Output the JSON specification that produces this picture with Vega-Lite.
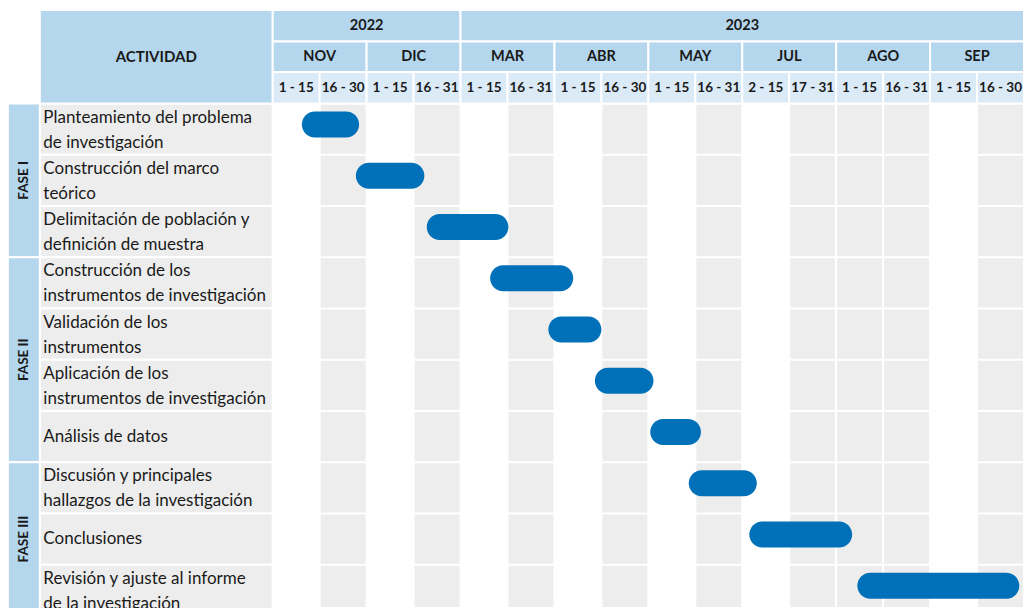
{
  "$schema": "https://vega.github.io/schema/vega-lite/v6.json",
  "autosize": {"type": "none"},
  "width": 1024,
  "height": 608,
  "padding": 0,
  "background": "white",
  "config": {"view": {"stroke": null}, "text": {"font": "Lato", "color": "#1a1a1a"}},
  "datasets": {
    "quincenas": [
      {"anio": "2022", "mes": "NOV", "quincena": "1 - 15", "ini": 0, "fin": 1},
      {"anio": "2022", "mes": "NOV", "quincena": "16 - 30", "ini": 1, "fin": 2},
      {"anio": "2022", "mes": "DIC", "quincena": "1 - 15", "ini": 2, "fin": 3},
      {"anio": "2022", "mes": "DIC", "quincena": "16 - 31", "ini": 3, "fin": 4},
      {"anio": "2023", "mes": "MAR", "quincena": "1 - 15", "ini": 4, "fin": 5},
      {"anio": "2023", "mes": "MAR", "quincena": "16 - 31", "ini": 5, "fin": 6},
      {"anio": "2023", "mes": "ABR", "quincena": "1 - 15", "ini": 6, "fin": 7},
      {"anio": "2023", "mes": "ABR", "quincena": "16 - 30", "ini": 7, "fin": 8},
      {"anio": "2023", "mes": "MAY", "quincena": "1 - 15", "ini": 8, "fin": 9},
      {"anio": "2023", "mes": "MAY", "quincena": "16 - 31", "ini": 9, "fin": 10},
      {"anio": "2023", "mes": "JUL", "quincena": "2 - 15", "ini": 10, "fin": 11},
      {"anio": "2023", "mes": "JUL", "quincena": "17 - 31", "ini": 11, "fin": 12},
      {"anio": "2023", "mes": "AGO", "quincena": "1 - 15", "ini": 12, "fin": 13},
      {"anio": "2023", "mes": "AGO", "quincena": "16 - 31", "ini": 13, "fin": 14},
      {"anio": "2023", "mes": "SEP", "quincena": "1 - 15", "ini": 14, "fin": 15},
      {"anio": "2023", "mes": "SEP", "quincena": "16 - 30", "ini": 15, "fin": 16}
    ],
    "actividades": [
      {"fila": 1, "fase": "FASE I", "actividad": "Planteamiento del problema\nde investigación", "inicio": 0.62, "fin": 1.84},
      {"fila": 2, "fase": "FASE I", "actividad": "Construcción del marco\nteórico", "inicio": 1.77, "fin": 3.23},
      {"fila": 3, "fase": "FASE I", "actividad": "Delimitación de población y\ndefinición de muestra", "inicio": 3.28, "fin": 5.02},
      {"fila": 4, "fase": "FASE II", "actividad": "Construcción de los\ninstrumentos de investigación", "inicio": 4.63, "fin": 6.4},
      {"fila": 5, "fase": "FASE II", "actividad": "Validación de los\ninstrumentos", "inicio": 5.87, "fin": 7.0},
      {"fila": 6, "fase": "FASE II", "actividad": "Aplicación de los\ninstrumentos de investigación", "inicio": 6.86, "fin": 8.11},
      {"fila": 7, "fase": "FASE II", "actividad": "Análisis de datos", "inicio": 8.04, "fin": 9.12},
      {"fila": 8, "fase": "FASE III", "actividad": "Discusión y principales\nhallazgos de la investigación", "inicio": 8.86, "fin": 10.31},
      {"fila": 9, "fase": "FASE III", "actividad": "Conclusiones", "inicio": 10.15, "fin": 12.34},
      {"fila": 10, "fase": "FASE III", "actividad": "Revisión y ajuste al informe\nde la investigación", "inicio": 12.45, "fin": 15.9}
    ],
    "encabezado": [{"titulo": "ACTIVIDAD"}]
  },
  "layer": [
    {
      "data": {"name": "quincenas"},
      "transform": [{"filter": {"field": "ini", "oneOf": [1, 3, 5, 7, 9, 11, 12, 13, 15]}}],
      "mark": {"type": "rect", "fill": "#ededed", "stroke": "white", "strokeWidth": 2},
      "encoding": {
        "x": {"field": "ini", "type": "quantitative", "scale": {"domain": [-5.808, 16], "nice": false, "zero": false}, "axis": null},
        "x2": {"field": "fin"},
        "y": {"datum": 0.5, "type": "quantitative", "scale": {"domain": [-1.5195, 10.344], "nice": false, "zero": false, "reverse": true}, "axis": null},
        "y2": {"datum": 10.344}
      }
    },
    {
      "data": {"name": "actividades"},
      "mark": {"type": "rect", "fill": "#ededed", "stroke": "white", "strokeWidth": 2, "yOffset": -25.625, "y2Offset": 25.625},
      "encoding": {
        "x": {"datum": -4.96, "type": "quantitative"},
        "x2": {"datum": 0},
        "y": {"field": "fila", "type": "quantitative"},
        "y2": {"field": "fila"}
      }
    },
    {
      "data": {"name": "actividades"},
      "mark": {"type": "rect", "fill": "#b4d7ee", "stroke": "white", "strokeWidth": 2, "yOffset": -25.625, "y2Offset": 25.625},
      "encoding": {
        "x": {"datum": -5.64, "type": "quantitative"},
        "x2": {"datum": -4.96},
        "y": {"aggregate": "min", "field": "fila", "type": "quantitative"},
        "y2": {"aggregate": "max", "field": "fila"},
        "detail": {"field": "fase"}
      }
    },
    {
      "data": {"name": "actividades"},
      "mark": {"type": "rule", "stroke": "white", "strokeWidth": 2, "yOffset": 25.625},
      "encoding": {
        "x": {"datum": 0, "type": "quantitative"},
        "x2": {"datum": 16},
        "y": {"field": "fila", "type": "quantitative"}
      }
    },
    {
      "data": {"name": "encabezado"},
      "mark": {"type": "rect", "fill": "#b4d7ee", "stroke": "white", "strokeWidth": 2},
      "encoding": {
        "x": {"datum": -4.96, "type": "quantitative"},
        "x2": {"datum": 0},
        "y": {"datum": -1.324, "type": "quantitative"},
        "y2": {"datum": 0.5}
      }
    },
    {
      "data": {"name": "quincenas"},
      "mark": {"type": "rect", "fill": "#b4d7ee", "stroke": "white", "strokeWidth": 2},
      "encoding": {
        "x": {"aggregate": "min", "field": "ini", "type": "quantitative"},
        "x2": {"aggregate": "max", "field": "fin"},
        "y": {"datum": -1.324, "type": "quantitative"},
        "y2": {"datum": -0.71},
        "detail": {"field": "anio"}
      }
    },
    {
      "data": {"name": "quincenas"},
      "mark": {"type": "rect", "fill": "#b4d7ee", "stroke": "white", "strokeWidth": 2},
      "encoding": {
        "x": {"aggregate": "min", "field": "ini", "type": "quantitative"},
        "x2": {"aggregate": "max", "field": "fin"},
        "y": {"datum": -0.71, "type": "quantitative"},
        "y2": {"datum": -0.115},
        "detail": {"field": "mes"}
      }
    },
    {
      "data": {"name": "quincenas"},
      "mark": {"type": "rect", "fill": "#dbeaf7", "stroke": "white", "strokeWidth": 2},
      "encoding": {
        "x": {"field": "ini", "type": "quantitative"},
        "x2": {"field": "fin"},
        "y": {"datum": -0.115, "type": "quantitative"},
        "y2": {"datum": 0.5}
      }
    },
    {
      "data": {"name": "encabezado"},
      "mark": {"type": "text", "fontSize": 15, "fontWeight": "bold", "align": "center", "baseline": "middle"},
      "encoding": {
        "x": {"datum": -2.48, "type": "quantitative"},
        "y": {"datum": -0.412, "type": "quantitative"},
        "text": {"field": "titulo"}
      }
    },
    {
      "data": {"name": "quincenas"},
      "mark": {"type": "text", "fontSize": 14.5, "fontWeight": "bold", "align": "center", "baseline": "middle", "xOffset": 23.48},
      "encoding": {
        "x": {"aggregate": "mean", "field": "ini", "type": "quantitative"},
        "y": {"datum": -1.017, "type": "quantitative"},
        "text": {"field": "anio"}
      }
    },
    {
      "data": {"name": "quincenas"},
      "mark": {"type": "text", "fontSize": 14.5, "fontWeight": "bold", "align": "center", "baseline": "middle", "xOffset": 23.48},
      "encoding": {
        "x": {"aggregate": "mean", "field": "ini", "type": "quantitative"},
        "y": {"datum": -0.41, "type": "quantitative"},
        "text": {"field": "mes"}
      }
    },
    {
      "data": {"name": "quincenas"},
      "mark": {"type": "text", "fontSize": 13.5, "fontWeight": "bold", "align": "center", "baseline": "middle", "xOffset": 23.48},
      "encoding": {
        "x": {"field": "ini", "type": "quantitative"},
        "y": {"datum": 0.19, "type": "quantitative"},
        "text": {"field": "quincena"}
      }
    },
    {
      "data": {"name": "actividades"},
      "transform": [{"filter": {"not": {"field": "fila", "oneOf": [7, 9]}}}],
      "mark": {"type": "text", "fontSize": 17, "align": "left", "baseline": "middle", "lineBreak": "\n", "lineHeight": 25, "dy": -11.5},
      "encoding": {
        "x": {"datum": -4.885, "type": "quantitative"},
        "y": {"field": "fila", "type": "quantitative"},
        "text": {"field": "actividad"}
      }
    },
    {
      "data": {"name": "actividades"},
      "transform": [{"filter": {"field": "fila", "oneOf": [7, 9]}}],
      "mark": {"type": "text", "fontSize": 17, "align": "left", "baseline": "middle"},
      "encoding": {
        "x": {"datum": -4.885, "type": "quantitative"},
        "y": {"field": "fila", "type": "quantitative"},
        "text": {"field": "actividad"}
      }
    },
    {
      "data": {"name": "actividades"},
      "mark": {"type": "text", "fontSize": 13.5, "fontWeight": "bold", "align": "center", "baseline": "middle", "angle": 270},
      "encoding": {
        "x": {"datum": -5.3, "type": "quantitative"},
        "y": {"aggregate": "mean", "field": "fila", "type": "quantitative"},
        "text": {"field": "fase"}
      }
    },
    {
      "data": {"name": "actividades"},
      "mark": {"type": "rect", "fill": "#0070b8", "cornerRadius": 13, "yOffset": -17.5, "y2Offset": 8.5},
      "encoding": {
        "x": {"field": "inicio", "type": "quantitative"},
        "x2": {"field": "fin"},
        "y": {"field": "fila", "type": "quantitative"},
        "y2": {"field": "fila"}
      }
    }
  ]
}
